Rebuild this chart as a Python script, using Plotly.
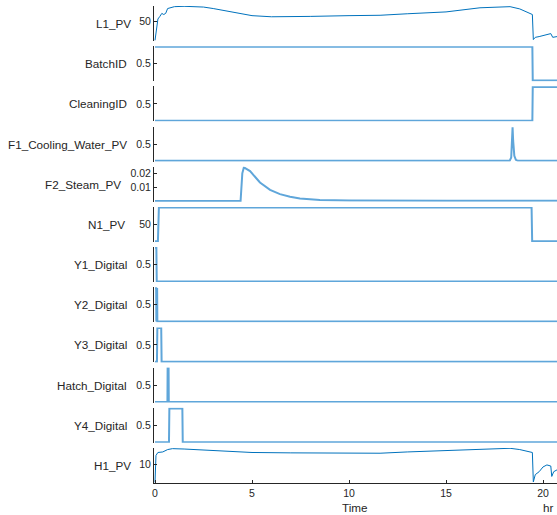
import plotly.graph_objects as go

T_END = 20.72

# ---- data ----
names = ["L1_PV", "BatchID", "CleaningID", "F1_Cooling_Water_PV", "F2_Steam_PV", "N1_PV",
         "Y1_Digital", "Y2_Digital", "Y3_Digital", "Hatch_Digital", "Y4_Digital", "H1_PV"]

l1_t = [0, 0.05, 0.1, 0.15, 0.25, 0.35, 0.45, 0.55, 0.65, 0.8, 1.0, 1.5, 2.0, 2.5, 3.0, 3.5, 4.0,
        4.5, 5.0, 6.0, 7.0, 8.0, 10.0, 11.6, 13.0, 15.0, 16.75, 17.5, 18.3, 18.8, 19.3, 19.45,
        19.5, 19.6, 19.8, 20.0, 20.2, 20.4, 20.5, 20.72]
l1_v = [0, 21, 44, 57, 64, 72, 69, 72, 85, 87, 90, 91, 91, 89, 85, 80, 75, 69, 66, 63, 63, 64,
        66, 67, 71, 76, 87, 89, 90, 84, 72, 69, 2, 8, 10, 13, 15, 18, 8, 10]

batch_t = [0, 19.45, 19.47, T_END]
batch_v = [1, 1, 0, 0]

clean_t = [0, 19.45, 19.47, T_END]
clean_v = [0, 0, 1, 1]

f1_t = [0, 18.28, 18.36, 18.41, 18.43, 18.46, 18.52, 18.6, 18.7, T_END]
f1_v = [0, 0, 0.1, 0.9, 1, 0.6, 0.15, 0.03, 0, 0]

f2_t = [0, 4.41, 4.5, 4.58, 4.9, 5.41, 5.93, 6.44, 6.96, 7.47, 8.5, 10.0, 15.0, 19.5, T_END]
f2_v = [0, 0, 0.02, 0.0243, 0.0216, 0.0134, 0.0081, 0.005, 0.0031, 0.0019, 0.0007, 0.0004,
        0.0003, 0.0003, 0.0003]

n1_t = [0, 0.15, 0.2, 19.41, 19.44, T_END]
n1_v = [0, 0, 100, 100, 0, 0]

y1_t = [0, 0.07, 0.09, T_END]
y1_v = [1, 1, 0, 0]

y2_t = [0, 0.06, 0.07, 0.11, 0.12, T_END]
y2_v = [1, 1, 0, 1, 0, 0]

y3_t = [0, 0.1, 0.12, 0.32, 0.34, T_END]
y3_v = [0, 0, 1, 1, 0, 0]

hatch_t = [0, 0.64, 0.65, 0.7, 0.71, T_END]
hatch_v = [0, 0, 1, 1, 0, 0]

y4_t = [0, 0.72, 0.74, 1.41, 1.43, T_END]
y4_v = [0, 0, 1, 1, 0, 0]

h1_t = [0, 0.05, 0.15, 0.4, 0.65, 0.9, 1.5, 2.5, 4, 5, 7, 10, 11.6, 13, 15.7, 17, 18.3, 18.8,
        19.3, 19.45, 19.5, 19.6, 19.8, 20.0, 20.2, 20.4, 20.45, 20.55, 20.72]
h1_v = [0, 14.7, 16.3, 16.6, 17.9, 18.4, 18.2, 17.6, 16.8, 16.3, 16.1, 15.9, 15.9, 16.6, 17.7,
        18.2, 18.6, 17.9, 16.5, 16.3, 0.2, 4.2, 5.8, 8.4, 9.5, 8.9, 3.2, 5.8, 6.8]

series_t = [l1_t, batch_t, clean_t, f1_t, f2_t, n1_t, y1_t, y2_t, y3_t, hatch_t, y4_t, h1_t]
series_v = [l1_v, batch_v, clean_v, f1_v, f2_v, n1_v, y1_v, y2_v, y3_v, hatch_v, y4_v, h1_v]

y_lims = [(0, 90), (0, 1), (0, 1), (0, 1), (0, 0.0243), (0, 100),
          (0, 1), (0, 1), (0, 1), (0, 1), (0, 1), (0, 18.4)]
y_ticks = [[50], [0.5], [0.5], [0.5], [0.01, 0.02], [50],
           [0.5], [0.5], [0.5], [0.5], [0.5], [10]]
y_ticktext = [["50"], ["0.5"], ["0.5"], ["0.5"], ["0.01", "0.02"], ["50"],
              ["0.5"], ["0.5"], ["0.5"], ["0.5"], ["0.5"], ["10"]]
caps = [False, True, True, True, True, True, True, True, True, True, True, False]
label_right = [133, 129, 129, 129, 123, 127, 129, 129, 129, 129, 129, 133]

x_ticks = [0, 5, 10, 15, 20]

# ---- layout geometry ----
W, H = 557, 515
ML, MR, MT, MB = 154, 0, 6, 32
PW, PH = W - ML - MR, H - MT - MB
pitch = 40.18
ph = 35
dark = "#262626"
blue = "#0072BD"
light_blue = "#5FA6DA"
font_fam = "Liberation Sans, Arial, Helvetica, sans-serif"

fig = go.Figure()
layout = dict(
    width=W, height=H, margin=dict(l=ML, r=MR, t=MT, b=MB),
    paper_bgcolor="white", plot_bgcolor="white", showlegend=False,
    font=dict(family=font_fam, color=dark),
)
annotations = []
n = len(names)
for i in range(n):
    top = MT + pitch * i
    bot = top + ph
    d0 = (H - MB - bot) / PH
    d1 = (H - MB - top) / PH
    d0, d1 = max(0, d0), min(1, d1)
    ax = "" if i == 0 else str(i + 1)
    lo, hi = y_lims[i]
    pad = 0.02 * (hi - lo)
    tv = list(y_ticks[i])
    tt = list(y_ticktext[i])
    if caps[i]:
        tv = [lo] + tv + [hi]
        tt = [""] + tt + [""]
    is_curve = names[i] in ("L1_PV", "H1_PV")
    fig.add_trace(go.Scatter(
        x=series_t[i], y=series_v[i], mode="lines",
        line=dict(color=blue if is_curve else light_blue, width=1.0 if is_curve else 2.0),
        xaxis="x" + ax, yaxis="y" + ax, hoverinfo="skip"))
    layout["yaxis" + ax] = dict(
        domain=[d0, d1], range=[lo - pad, hi + pad], anchor="x" + ax,
        showline=True, linecolor=dark, linewidth=1, showgrid=False, zeroline=False,
        tickmode="array", tickvals=tv, ticktext=tt, ticks="inside", ticklen=3,
        tickcolor=dark, tickfont=dict(size=10.5, color=dark, family=font_fam))
    last = (i == n - 1)
    xa = dict(range=[-0.052, T_END], anchor="y" + ax, showgrid=False, zeroline=False,
              domain=[0, 1])
    if last:
        xa.update(showline=True, linecolor=dark, linewidth=1, tickmode="array",
                  tickvals=x_ticks, ticktext=[str(v) for v in x_ticks], ticks="inside",
                  ticklen=3, tickcolor=dark,
                  tickfont=dict(size=10.5, color=dark, family=font_fam))
    else:
        xa.update(showline=False, showticklabels=False, ticks="", matches="x")
    layout["xaxis" + ax] = xa
    annotations.append(dict(
        text=names[i], xref="paper", yref="paper",
        x=(label_right[i] - ML) / PW, y=(H - MB - (top + bot) / 2) / PH,
        xanchor="right", yanchor="middle", showarrow=False,
        font=dict(size=11.7, color=dark, family=font_fam)))

annotations.append(dict(text="Time", xref="paper", yref="paper",
                        x=(355 - ML) / PW, y=(H - MB - 507) / PH, xanchor="center",
                        yanchor="middle", showarrow=False,
                        font=dict(size=11.7, color=dark, family=font_fam)))
annotations.append(dict(text="hr", xref="paper", yref="paper",
                        x=(541 - ML) / PW, y=(H - MB - 508) / PH, xanchor="left",
                        yanchor="middle", showarrow=False,
                        font=dict(size=11.7, color=dark, family=font_fam)))
layout["annotations"] = annotations
fig.update_layout(**layout)
fig.write_html("out.html", config={"displayModeBar": False},
               post_script="document.body.style.margin='0';document.body.style.overflow='hidden';")
